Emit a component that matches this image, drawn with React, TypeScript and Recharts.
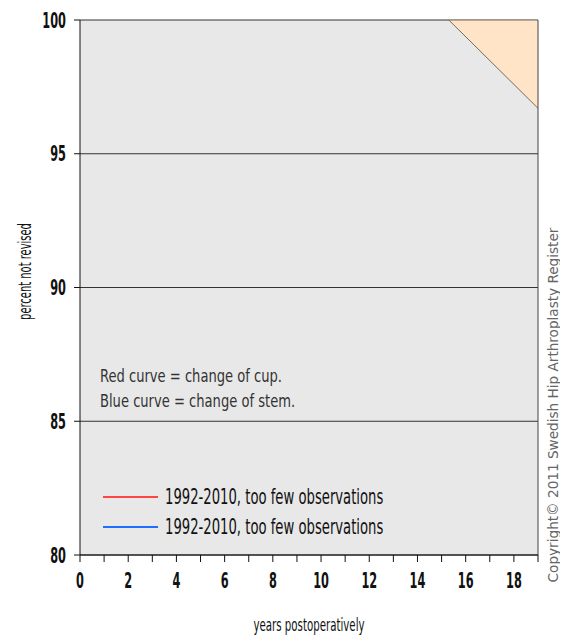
import React from 'react';
import {
  ComposedChart,
  Area,
  Line,
  XAxis,
  YAxis,
  CartesianGrid,
  ReferenceLine,
} from 'recharts';

// ---- data ----
const boundYears = [15.3, 19];
const boundUpper = [100, 100];
const boundLower = [100, 96.7];

const xTicks = [0, 1, 2, 3, 4, 5, 6, 7, 8, 9, 10, 11, 12, 13, 14, 15, 16, 17, 18, 19];
const yTicks = [80, 85, 90, 95, 100];

const seriesNames = ['1992-2010, too few observations', '1992-2010, too few observations'];
const seriesColors = ['#ff4444', '#1f6fff'];
const notes = ['Red curve = change of cup.', 'Blue curve = change of stem.'];

const xLabel = 'years postoperatively';
const yLabel = 'percent not revised';
const copyright = 'Copyright\u00A9 2011 Swedish Hip Arthroplasty Register';

const data = boundYears.map((x, i) => ({
  x,
  band: [boundLower[i], boundUpper[i]],
  cup: null,
  stem: null,
}));

const FONT = "'DejaVu Sans Condensed', 'DejaVu Sans', sans-serif";

const W = 560;
const H = 629;
const TICK_FS = 21;
const TICK_SX = 0.6;

const XTick = (props: any) => {
  const { x, y, payload } = props;
  const v = payload.value;
  if (v % 2 !== 0) return null;
  return (
    <g transform={`translate(${x},${y}) scale(${TICK_SX},1)`}>
      <text
        x={0}
        y={0}
        dy="0.73em"
        textAnchor="middle"
        fontFamily={FONT}
        fontWeight="bold"
        fontSize={TICK_FS}
        fill="#111"
      >
        {String(v)}
      </text>
    </g>
  );
};

const YTick = (props: any) => {
  const { x, y, payload } = props;
  return (
    <g transform={`translate(${x},${y}) scale(${TICK_SX},1)`}>
      <text
        x={0}
        y={0}
        dy="0.365em"
        textAnchor="end"
        fontFamily={FONT}
        fontWeight="bold"
        fontSize={TICK_FS}
        fill="#111"
      >
        {String(payload.value)}
      </text>
    </g>
  );
};

const YLabel = (props: any) => {
  const vb = props.viewBox || {};
  const x = vb.x + 17.5;
  const y = vb.y + vb.height / 2 - 16;
  return (
    <g transform={`translate(${x},${y}) rotate(-90) scale(0.65,1)`}>
      <text
        x={0}
        y={0}
        textAnchor="middle"
        dominantBaseline="central"
        fontFamily={FONT}
        fontSize={17}
        fill="#111"
      >
        {yLabel}
      </text>
    </g>
  );
};

const XLabel = (props: any) => {
  const vb = props.viewBox || {};
  const x = vb.x + vb.width / 2;
  const y = vb.y + 69;
  return (
    <g transform={`translate(${x},${y}) scale(0.65,1)`}>
      <text
        x={0}
        y={0}
        textAnchor="middle"
        dominantBaseline="central"
        fontFamily={FONT}
        fontSize={17.5}
        fill="#111"
      >
        {xLabel}
      </text>
    </g>
  );
};

export default function App() {
  return (
    <div style={{ position: 'relative', width: W, height: H, fontFamily: FONT }}>
      <ComposedChart
        width={W}
        height={H}
        data={data}
        margin={{ top: 12, right: 30, left: 0, bottom: 0 }}
      >
        <CartesianGrid
          horizontal
          vertical={false}
          stroke="#333"
          fill="#e8e8e8"
          fillOpacity={1}
        />
        <XAxis
          dataKey="x"
          type="number"
          domain={[0, 19]}
          ticks={xTicks}
          interval={0}
          allowDataOverflow
          height={82}
          tickSize={7}
          tickMargin={11}
          stroke="#111"
          tick={<XTick />}
          label={<XLabel />}
        />
        <YAxis
          type="number"
          domain={[80, 100]}
          ticks={yTicks}
          interval={0}
          allowDataOverflow
          width={72}
          tickSize={6}
          tickMargin={8}
          stroke="#111"
          tick={<YTick />}
          label={<YLabel />}
        />
        <ReferenceLine x={19} stroke="#444" strokeWidth={1} />
        <Area
          dataKey="band"
          type="linear"
          fill="#ffe4c8"
          fillOpacity={1}
          stroke="#7a6a5a"
          strokeWidth={1}
          dot={false}
          activeDot={false}
          isAnimationActive={false}
        />
        <Line dataKey="cup" stroke={seriesColors[0]} dot={false} isAnimationActive={false} />
        <Line dataKey="stem" stroke={seriesColors[1]} dot={false} isAnimationActive={false} />
      </ComposedChart>

      {notes.map((t, i) => (
        <div
          key={'n' + i}
          style={{
            position: 'absolute',
            left: 92,
            top: 356.3 + i * 25,
            fontSize: 18.2,
            lineHeight: '24px',
            color: '#333',
            whiteSpace: 'nowrap',
            transform: 'scaleX(0.8)',
            transformOrigin: 'left center',
          }}
        >
          {t}
        </div>
      ))}

      {seriesNames.map((t, i) => (
        <React.Fragment key={'l' + i}>
          <div
            style={{
              position: 'absolute',
              left: 95,
              top: 487.7 + i * 30,
              width: 55,
              height: 2,
              background: seriesColors[i],
            }}
          />
          <div
            style={{
              position: 'absolute',
              left: 157,
              top: 477.1 + i * 30,
              fontSize: 20.5,
              lineHeight: '24px',
              color: '#111',
              whiteSpace: 'nowrap',
              transform: 'scaleX(0.715)',
              transformOrigin: 'left center',
            }}
          >
            {t}
          </div>
        </React.Fragment>
      ))}

      <div
        style={{
          position: 'absolute',
          left: 545,
          top: 397,
          width: 0,
          height: 0,
        }}
      >
        <div
          style={{
            position: 'absolute',
            left: 0,
            top: 0,
            transform: 'translate(-50%, -50%) rotate(-90deg) scaleX(1.12)',
            fontSize: 13.5,
            color: '#666',
            whiteSpace: 'nowrap',
          }}
        >
          {copyright}
        </div>
      </div>
    </div>
  );
}
